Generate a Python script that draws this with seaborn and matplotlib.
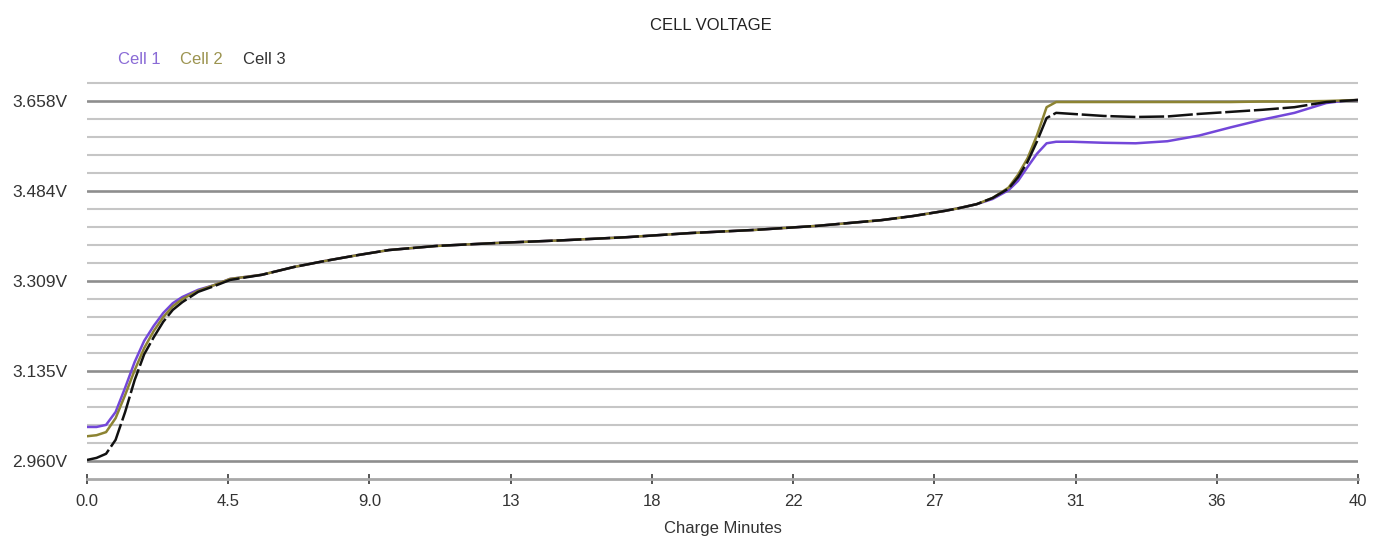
import matplotlib
matplotlib.use("Agg")
import matplotlib.pyplot as plt
import seaborn as sns
import pandas as pd
from matplotlib.ticker import FixedLocator

minutes = [0, 0.3, 0.6, 0.9, 1.2, 1.5, 1.8, 2.1, 2.4, 2.7, 3.0, 3.5, 4.0, 4.5,
           5.5, 6.5, 7.5, 8.5, 9.5, 11, 13, 15, 17, 19, 21, 23, 25, 26, 27, 27.5, 28,
           28.5, 29, 29.3, 29.6, 29.9, 30.2, 30.5,
           31, 32, 33, 34, 35, 36, 37, 38, 39, 39.5, 40]

common = [3.321, 3.336, 3.348, 3.359, 3.369, 3.377, 3.383, 3.388, 3.394, 3.402,
          3.408, 3.416, 3.427, 3.435, 3.445, 3.451, 3.458]

cell1 = ([3.026, 3.026, 3.030, 3.055, 3.102, 3.152, 3.193, 3.222, 3.247, 3.266, 3.278, 3.292, 3.301, 3.313]
         + common
         + [3.468, 3.485, 3.503, 3.530, 3.556, 3.576, 3.579,
            3.579, 3.577, 3.576, 3.580, 3.591, 3.607, 3.622, 3.635, 3.654, 3.658, 3.660])
cell2 = ([3.008, 3.010, 3.016, 3.043, 3.088, 3.136, 3.179, 3.212, 3.239, 3.260, 3.274, 3.290, 3.301, 3.313]
         + common
         + [3.470, 3.490, 3.515, 3.547, 3.592, 3.646, 3.656,
            3.656, 3.656, 3.656, 3.656, 3.656, 3.656, 3.657, 3.657, 3.658, 3.659, 3.660])
cell3 = ([2.962, 2.966, 2.974, 3.001, 3.055, 3.117, 3.167, 3.200, 3.230, 3.253, 3.268, 3.288, 3.299, 3.311]
         + common
         + [3.470, 3.488, 3.510, 3.540, 3.580, 3.625, 3.635,
            3.633, 3.629, 3.627, 3.628, 3.633, 3.637, 3.641, 3.646, 3.656, 3.658, 3.660])

series_names = ["Cell 1", "Cell 2", "Cell 3"]
line_colors = ["#7347d9", "#8c8332", "#111111"]
label_colors = ["#8a6bd6", "#9c9450", "#333333"]

y_major = [2.960, 3.1345, 3.309, 3.4835, 3.658]
y_labels = ["2.960V", "3.135V", "3.309V", "3.484V", "3.658V"]
x_ticks = [40 * i / 9 for i in range(10)]
x_labels = ["0.0", "4.5", "9.0", "13", "18", "22", "27", "31", "36", "40"]

df = pd.DataFrame({
    "Minutes": minutes * 3,
    "Volts": cell1 + cell2 + cell3,
    "Cell": sum([[n] * len(minutes) for n in series_names], []),
})

sns.set_theme(style="white")
plt.rcParams["font.family"] = ["Liberation Sans", "DejaVu Sans"]

W, H = 1374, 536
fig = plt.figure(figsize=(W / 100, H / 100), dpi=100)
ymin, ymax = 2.9251, 3.700
step = 0.1745 / 90  # volts per pixel
top_px = 479 - (ymax - ymin) / step
ax = fig.add_axes([87 / W, (H - 479) / H, (1358 - 87) / W, (479 - top_px) / H])

sns.lineplot(data=df, x="Minutes", y="Volts", hue="Cell", style="Cell",
             palette=dict(zip(series_names, line_colors)),
             dashes={"Cell 1": "", "Cell 2": "", "Cell 3": (10, 1.5)},
             estimator=None, sort=False, linewidth=1.8, legend=False, ax=ax)

ax.set_xlim(0, 40)
ax.set_ylim(ymin, ymax)

# grid lines
minor_vals = [2.960 + k * 0.0349 for k in range(-1, 22)]
for v in minor_vals:
    if any(abs(v - m) < 1e-3 for m in y_major):
        continue
    if v < ymin + 1e-4:
        continue
    ax.axhline(v, color="#c6c6c6", lw=1.5, zorder=0)
for v in y_major:
    ax.axhline(v, color="#8e8e8e", lw=1.9, zorder=0)

ax.yaxis.set_major_locator(FixedLocator(y_major))
ax.set_yticklabels(y_labels)
ax.xaxis.set_major_locator(FixedLocator(x_ticks))
ax.set_xticklabels(x_labels)

for s in ["top", "right", "left"]:
    ax.spines[s].set_visible(False)
ax.spines["bottom"].set_color("#a8a8a8")
ax.spines["bottom"].set_linewidth(2.0)

ax.tick_params(axis="y", length=0, pad=14, labelsize=12.5, labelcolor="#333333")
ax.tick_params(axis="x", direction="inout", length=7, width=1.4, color="#555555",
               pad=7, labelsize=12, labelcolor="#333333", bottom=True)

ax.set_xlabel("Charge Minutes", fontsize=12, color="#333333", labelpad=9)
ax.set_ylabel("")

fig.text(711 / W, 1 - 25 / H, "CELL VOLTAGE", ha="center", va="center",
         fontsize=12, color="#222222")

legend_x = [118, 180, 243]
for name, col, lx in zip(series_names, label_colors, legend_x):
    fig.text(lx / W, 1 - 60 / H, name, ha="left", va="center", fontsize=12, color=col)

fig.savefig("out.png", dpi=100, facecolor="white")
